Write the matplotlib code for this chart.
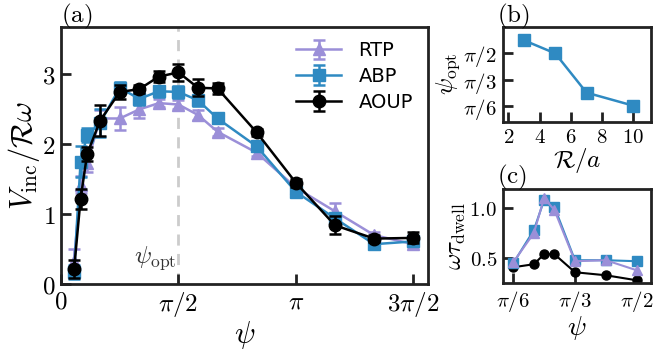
import numpy as np
import matplotlib
matplotlib.use("Agg")
import matplotlib.pyplot as plt

plt.rcParams['mathtext.fontset'] = 'cm'
plt.rcParams['font.family'] = ['DejaVu Sans']

# ---- data: panel (a) ----
psi_deg = [10, 15, 20, 30, 45, 60, 75, 90, 105, 120, 150, 180, 210, 240, 270]
rtp = [0.33, 1.42, 1.73, 2.37, 2.37, 2.50, 2.59, 2.57, 2.42, 2.18, 1.88, 1.38, 1.04, 0.70, 0.57]
rtp_err = [0.17, 0.12, 0.12, 0.12, 0.17, 0.12, 0.06, 0.06, 0.07, 0.06, 0.05, 0.05, 0.12, 0.05, 0.05]
abp = [0.17, 1.75, 2.13, 2.31, 2.81, 2.65, 2.76, 2.75, 2.63, 2.37, 1.97, 1.32, 0.94, 0.57, 0.61]
abp_err = [0.10, 0.22, 0.10, 0.20, 0.08, 0.08, 0.08, 0.08, 0.08, 0.06, 0.05, 0.05, 0.08, 0.05, 0.05]
aoup = [0.21, 1.22, 1.86, 2.34, 2.75, 2.79, 2.97, 3.03, 2.81, 2.80, 2.17, 1.45, 0.84, 0.65, 0.66]
aoup_err = [0.13, 0.14, 0.10, 0.22, 0.10, 0.06, 0.08, 0.12, 0.12, 0.08, 0.05, 0.06, 0.13, 0.05, 0.08]

# ---- data: panel (b) ----
R_over_a = [3, 5, 7, 10]
psi_opt_deg = [105, 90, 45, 30]

# ---- data: panel (c) ----
psi_c_deg = [30, 40, 45, 50, 60, 75, 90]
dwell_rtp = [0.46, 0.75, 1.10, 0.98, 0.47, 0.48, 0.38]
dwell_abp = [0.45, 0.78, 1.08, 1.01, 0.48, 0.48, 0.47]
dwell_aoup = [0.41, 0.44, 0.54, 0.54, 0.36, 0.33, 0.28]

c_rtp = '#9b8fd8'
c_abp = '#2f8ac2'
c_aoup = 'black'

fig = plt.figure(figsize=(6.54, 3.51), dpi=100)

def style(ax, lsize):
    for s in ax.spines.values():
        s.set_linewidth(2.0)
        s.set_color('#222222')
    ax.tick_params(direction='in', length=7, width=2.0, labelsize=lsize,
                   top=False, right=False, color='#222222', pad=4)

# ---- panel (a) ----
ax = fig.add_axes([0.0933, 0.1909, 0.5612, 0.7322])
x = np.deg2rad(psi_deg)
ax.axvline(np.pi / 2, color='#cccccc', ls=(0, (4, 3)), lw=2, zorder=0)
ekw = dict(lw=1.8, elinewidth=1.8, capsize=4, capthick=1.8, markersize=9)
ax.errorbar(x, rtp, yerr=rtp_err, color=c_rtp, marker='^', label='RTP', zorder=2, **ekw)
ax.errorbar(x, abp, yerr=abp_err, color=c_abp, marker='s', label='ABP', zorder=3, **ekw)
ax.errorbar(x, aoup, yerr=aoup_err, color=c_aoup, marker='o', label='AOUP', zorder=4, **ekw)
ax.set_xlim(0, 4.91)
ax.set_ylim(0, 3.68)
ax.set_xticks([0, np.pi / 2, np.pi, 3 * np.pi / 2])
ax.set_xticklabels([r'$0$', r'$\pi/2$', r'$\pi$', r'$3\pi/2$'])
ax.set_yticks([0, 1, 2, 3])
ax.set_yticklabels([r'$0$', r'$1$', r'$2$', r'$3$'])
style(ax, 18)
ax.set_xlabel(r'$\psi$', fontsize=22, labelpad=0)
ax.set_ylabel(r'$V_{\rm inc}/\mathcal{R}\omega$', fontsize=22, labelpad=0)
ax.text(np.pi / 2 - 0.02, 0.17, r'$\psi_{\rm opt}$', fontsize=18, ha='right', va='bottom',
        color='#333333')
leg = ax.legend(loc='upper left', bbox_to_anchor=(0.62, 0.975), borderaxespad=0,
                frameon=False, fontsize=14, handlelength=2.3, handletextpad=0.9,
                labelspacing=0.35)
fig.text(0.094, 0.995, r'$\mathrm{(a)}$', fontsize=18, ha='left', va='top')

# ---- panel (b) ----
axb = fig.add_axes([0.7686, 0.6533, 0.2263, 0.2707])
axb.plot(R_over_a, np.deg2rad(psi_opt_deg), color=c_abp, marker='s', markersize=8, lw=1.8)
axb.set_xlim(1.64, 11.1)
axb.set_ylim(0.39 * np.pi / 6, 4.02 * np.pi / 6)
axb.set_xticks([2, 4, 6, 8, 10])
axb.set_xticklabels([r'$2$', r'$4$', r'$6$', r'$8$', r'$10$'])
axb.set_yticks([np.pi / 6, np.pi / 3, np.pi / 2])
axb.set_yticklabels([r'$\pi/6$', r'$\pi/3$', r'$\pi/2$'])
style(axb, 15)
axb.set_xlabel(r'$\mathcal{R}/a$', fontsize=18, labelpad=-1)
axb.set_ylabel(r'$\psi_{\rm opt}$', fontsize=18, labelpad=1)
fig.text(0.760, 0.995, r'$\mathrm{(b)}$', fontsize=18, ha='left', va='top')

# ---- panel (c) ----
axc = fig.add_axes([0.7686, 0.1929, 0.2263, 0.2687])
xc = np.deg2rad(psi_c_deg)
axc.plot(xc, dwell_aoup, color=c_aoup, marker='o', markersize=6.5, lw=1.5, zorder=2)
axc.plot(xc, dwell_abp, color=c_abp, marker='s', markersize=6.5, lw=1.5, zorder=3)
axc.plot(xc, dwell_rtp, color=c_rtp, marker='^', markersize=6.5, lw=1.5, zorder=4)
axc.set_xlim(0.828 * np.pi / 6, 3.227 * np.pi / 6)
axc.set_ylim(0.25, 1.19)
axc.set_xticks([np.pi / 6, np.pi / 3, np.pi / 2])
axc.set_xticklabels([r'$\pi/6$', r'$\pi/3$', r'$\pi/2$'])
axc.set_yticks([0.5, 1.0])
axc.set_yticklabels([r'$0.5$', r'$1.0$'])
style(axc, 15)
axc.set_xlabel(r'$\psi$', fontsize=20, labelpad=0)
axc.set_ylabel(r'$\omega\tau_{\rm dwell}$', fontsize=18, labelpad=1)
fig.text(0.760, 0.535, r'$\mathrm{(c)}$', fontsize=18, ha='left', va='top')

fig.savefig('out.png', dpi=100)
